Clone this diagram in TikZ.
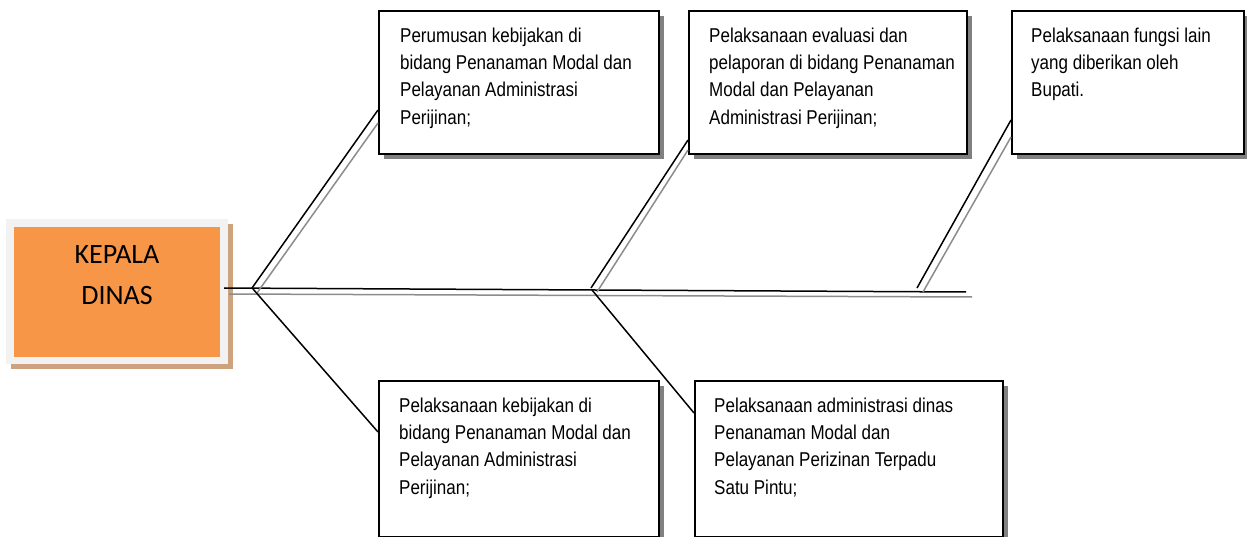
\documentclass[tikz,border=0pt]{standalone}
\usepackage{fontspec}
\setmainfont{Liberation Sans}
\newfontfamily\narrowfont[FakeStretch=0.85]{Liberation Sans}
\newfontfamily\headfont{Carlito}
\usetikzlibrary{calc,shadows}
\definecolor{kepala}{HTML}{F79646}
\definecolor{kframe}{HTML}{F2F2F2}
\definecolor{kshadow}{HTML}{CDA27F}
\definecolor{bshadow}{HTML}{808080}
\definecolor{gline}{HTML}{8C8C8C}
\begin{document}
\begin{tikzpicture}[x=1pt,y=-1pt,
  infobox/.style={draw=black, line width=1.8pt, fill=white, anchor=north west,
    inner sep=0pt, minimum height=143pt,
    drop shadow={shadow xshift=5pt, shadow yshift=-5pt, fill=bshadow, opacity=1}},
  infotext/.style={anchor=north west, inner sep=0pt, align=left,
    font=\narrowfont\fontsize{20}{27.3}\selectfont},
  blackline/.style={draw=black, line width=1.5pt},
  grayline/.style={draw=gline, line width=1.5pt}]
\useasboundingbox (0,0) rectangle (1247,537);

% head box
\node[fill=kframe, anchor=north west, inner sep=0pt, minimum width=222pt, minimum height=145pt,
  drop shadow={shadow xshift=5pt, shadow yshift=-5pt, fill=kshadow, opacity=1}] (K) at (6,219) {};
\node[fill=kepala, anchor=north west, inner sep=0pt, minimum width=206pt, minimum height=130pt] (Kin) at (14,227) {};
\node[anchor=base, inner sep=0pt, align=center, font=\headfont\fontsize{28}{41}\selectfont] (kt) at (117,305) {KEPALA\\DINAS};

% spine coordinates
\coordinate (sb0) at (224,288);
\coordinate (sb1) at (966,292);
\coordinate (sg0) at (229,294);
\coordinate (sg1) at (972,297);
\coordinate (j1b) at (252,288);
\coordinate (j1g) at (257,293);
\coordinate (j1d) at (253,289);
\coordinate (j2b) at (591,288);
\coordinate (j2g) at (597,292);
\coordinate (j2d) at (592,290);
\coordinate (j3b) at (917,288);
\coordinate (j3g) at (923,292);

% boxes
\node[infobox, minimum width=280pt] (A) at (378,10) {};
\node[infobox, minimum width=278pt] (B) at (688,10) {};
\node[infobox, minimum width=232pt] (C) at (1011,10) {};
\node[infobox, minimum width=280pt, minimum height=156pt] (D) at (378,380) {};
\node[infobox, minimum width=308pt, minimum height=156pt] (E) at (694,380) {};

\coordinate (a1b) at ($(A.north west)+(0,100)$);
\coordinate (a1g) at ($(A.north west)+(0,113)$);
\coordinate (b1b) at ($(B.north west)+(0,130)$);
\coordinate (b1g) at ($(B.north west)+(0,140)$);
\coordinate (c1b) at ($(C.north west)+(0,110)$);
\coordinate (c1g) at ($(C.north west)+(0,127)$);
\coordinate (d1) at ($(D.north west)+(0,52)$);
\coordinate (e1) at ($(E.north west)+(0,33)$);

% connectors
\draw[blackline] (sb0) -- (sb1);
\draw[grayline] (sg0) -- (sg1);
\draw[blackline] (j1b) -- (a1b);
\draw[grayline] (j1g) -- (a1g);
\draw[blackline] (j2b) -- (b1b);
\draw[grayline] (j2g) -- (b1g);
\draw[blackline] (j3b) -- (c1b);
\draw[grayline] (j3g) -- (c1g);
\draw[blackline] (j1d) -- (d1);
\draw[blackline] (j2d) -- (e1);

% texts (first baseline = top + 19.11)
\node[infotext] (At) at (400,22.9) {\strut Perumusan kebijakan di\\bidang Penanaman Modal dan\\Pelayanan Administrasi\\Perijinan;};
\node[infotext] (Bt) at (709,22.9) {\strut Pelaksanaan evaluasi dan\\pelaporan di bidang Penanaman\\Modal dan Pelayanan\\Administrasi Perijinan;};
\node[infotext] (Ct) at (1031,22.9) {\strut Pelaksanaan fungsi lain\\yang diberikan oleh\\Bupati.};
\node[infotext] (Dt) at (399,392.9) {\strut Pelaksanaan kebijakan di\\bidang Penanaman Modal dan\\Pelayanan Administrasi\\Perijinan;};
\node[infotext] (Et) at (714,392.9) {\strut Pelaksanaan administrasi dinas\\Penanaman Modal dan\\Pelayanan Perizinan Terpadu\\Satu Pintu;};
\end{tikzpicture}
\end{document}
